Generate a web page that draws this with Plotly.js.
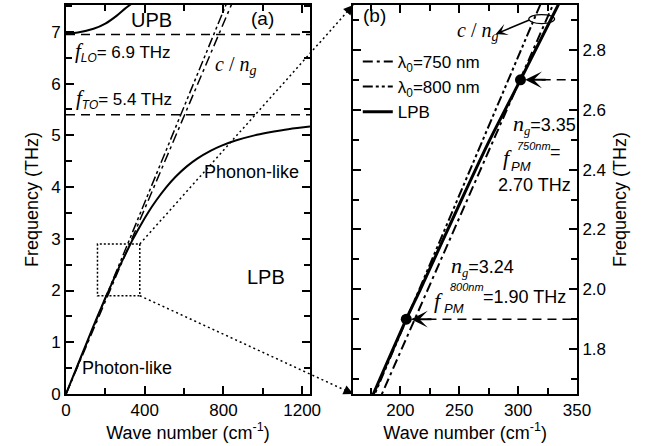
<!DOCTYPE html>
<html><head><meta charset="utf-8">
<script src="https://cdn.plot.ly/plotly-3.0.1.min.js"></script>
<style>html,body{margin:0;padding:0;background:#fff}</style>
</head><body>
<div id="chart" style="width:655px;height:446px"></div>
<script>
// ---- data ----
const lpbK = [0, 53, 106, 160, 177, 205, 217, 252, 276, 302, 334, 341, 377, 416, 460, 510, 557, 614, 667, 734, 791, 862, 958, 1021, 1098, 1175, 1240];
const lpbF = [0, 0.5, 1.0, 1.5, 1.65, 1.9, 2.0, 2.3, 2.5, 2.7, 2.95, 3.0, 3.25, 3.5, 3.75, 4.0, 4.2, 4.4, 4.55, 4.7, 4.8, 4.9, 5.0, 5.05, 5.1, 5.14, 5.17];
const upbK = [0, 60, 140, 200, 260, 300, 335];
const upbF = [6.97, 6.99, 7.06, 7.16, 7.32, 7.45, 7.55];
const line750K = [0, 850];
const line750F = [0, 7.61];
const line800K = [0, 820];
const line800F = [0, 7.59];
const pmK = [302, 205];
const pmF = [2.70, 1.90];
const fLO = 6.95;
const fTO = 5.4;
const boxK = [160, 375];
const boxF = [1.9, 2.9];
const ellipseK = [309, 331];
const ellipseF = [2.888, 2.918];

// ---- layout geometry ----
const W = 655, H = 446;
const M = {l: 66, r: 78, t: 5, b: 52};
const domA = [0, 0.4775], domB = [0.5622, 1];
const rangeXA = [0, 1240], rangeYA = [0, 7.52];
const rangeXB = [160, 350], rangeYB = [1.65, 2.95];
const SANS = 'Arial, "Liberation Sans", sans-serif';
const SERIF = '"Liberation Serif", "Times New Roman", serif';

function px(dom, rng, v) { return dom[0] + (v - rng[0]) / (rng[1] - rng[0]) * (dom[1] - dom[0]); }
function py(rng, v) { return (v - rng[0]) / (rng[1] - rng[0]); }

const dashDot = '10px,4px,3px,4px';
const dashDotDot = '10px,3px,3px,3px,3px,3px';

const traces = [
  // left panel
  {x: lpbK, y: lpbF, xaxis: 'x', yaxis: 'y', mode: 'lines', line: {color: '#000', width: 2, shape: 'spline', smoothing: 0.6}, showlegend: false},
  {x: upbK, y: upbF, xaxis: 'x', yaxis: 'y', mode: 'lines', line: {color: '#000', width: 2, shape: 'spline', smoothing: 0.6}, showlegend: false},
  {x: line750K, y: line750F, xaxis: 'x', yaxis: 'y', mode: 'lines', line: {color: '#000', width: 1.5, dash: dashDot}, showlegend: false},
  {x: line800K, y: line800F, xaxis: 'x', yaxis: 'y', mode: 'lines', line: {color: '#000', width: 1.5, dash: dashDotDot}, showlegend: false},
  // right panel
  {x: line750K, y: line750F, xaxis: 'x2', yaxis: 'y2', mode: 'lines', name: 'λ<sub>0</sub>=750 nm', line: {color: '#000', width: 2, dash: dashDot}},
  {x: line800K, y: line800F, xaxis: 'x2', yaxis: 'y2', mode: 'lines', name: 'λ<sub>0</sub>=800 nm', line: {color: '#000', width: 2, dash: dashDotDot}},
  {x: lpbK, y: lpbF, xaxis: 'x2', yaxis: 'y2', mode: 'lines', name: 'LPB', line: {color: '#000', width: 3, shape: 'spline', smoothing: 0.6}},
  {x: pmK, y: pmF, xaxis: 'x2', yaxis: 'y2', mode: 'markers', marker: {color: '#000', size: 11}, showlegend: false}
];

const axisCommon = {
  showline: true, linewidth: 2, linecolor: '#000', mirror: 'ticks', ticks: 'inside',
  ticklen: 8, tickwidth: 2, tickcolor: '#000', showgrid: false, zeroline: false,
  tickfont: {family: SANS, size: 17, color: '#000'}
};

const shapes = [
  {type: 'line', xref: 'x domain', yref: 'y', x0: 0, x1: 1, y0: fLO, y1: fLO, line: {color: '#000', width: 1.5, dash: '9px,6px'}},
  {type: 'line', xref: 'x domain', yref: 'y', x0: 0, x1: 1, y0: fTO, y1: fTO, line: {color: '#000', width: 1.5, dash: '9px,6px'}},
  {type: 'rect', xref: 'x', yref: 'y', x0: boxK[0], x1: boxK[1], y0: boxF[0], y1: boxF[1], line: {color: '#000', width: 1.5, dash: '2px,2px'}},
  // connectors
  {type: 'line', xref: 'paper', yref: 'paper', x0: px(domA, rangeXA, boxK[1]), y0: py(rangeYA, boxF[1]), x1: domB[0], y1: 1, line: {color: '#000', width: 1.5, dash: '2px,3px'}},
  {type: 'line', xref: 'paper', yref: 'paper', x0: px(domA, rangeXA, boxK[1]), y0: py(rangeYA, boxF[0]), x1: domB[0], y1: 0, line: {color: '#000', width: 1.5, dash: '2px,3px'}},
  // PM dashed guides
  {type: 'line', xref: 'x2', yref: 'y2', x0: pmK[0] + 18, x1: rangeXB[1], y0: pmF[0], y1: pmF[0], line: {color: '#000', width: 1.5, dash: '9px,6px'}},
  {type: 'line', xref: 'x2', yref: 'y2', x0: pmK[1] + 18, x1: rangeXB[1], y0: pmF[1], y1: pmF[1], line: {color: '#000', width: 1.5, dash: '9px,6px'}},
  {type: 'circle', xref: 'x2', yref: 'y2', x0: ellipseK[0], x1: ellipseK[1], y0: ellipseF[0], y1: ellipseF[1], line: {color: '#000', width: 1.2}}
];

const pw = W - M.l - M.r, ph = H - M.t - M.b;
function connHead(y0paper, y1paper) {
  const sx = px(domA, rangeXA, boxK[1]) * pw, sy = (1 - y0paper) * ph;
  const ex = domB[0] * pw, ey = (1 - y1paper) * ph;
  const dx = sx - ex, dy = sy - ey, L = Math.hypot(dx, dy);
  return {ax: dx / L * 10, ay: dy / L * 10};
}
const hTop = connHead(py(rangeYA, boxF[1]), 1);
const hBot = connHead(py(rangeYA, boxF[0]), 0);

function txt(xref, yref, x, y, text, size, anchor, fam) {
  return {xref: xref, yref: yref, x: x, y: y, text: text, showarrow: false, xanchor: anchor || 'center', yanchor: 'middle',
          font: {family: fam || SANS, size: size, color: '#000'}};
}
const annotations = [
  txt('x', 'y', 437, 7.23, 'UPB', 20),
  txt('x', 'y', 1001, 7.26, '(a)', 19),
  txt('x', 'y', 36, 6.62, '<span style="font-family:\'Liberation Serif\';font-size:21px"><i>f</i></span><sub><i>LO</i></sub>= 6.9 THz', 17, 'left'),
  txt('x', 'y', 40, 5.71, '<span style="font-family:\'Liberation Serif\';font-size:21px"><i>f</i></span><sub><i>TO</i></sub>= 5.4 THz', 17, 'left'),
  txt('x', 'y', 747, 6.36, '<i>c</i> / <i>n</i><sub><i>g</i></sub>', 20, 'left', SERIF),
  txt('x', 'y', 943, 4.29, 'Phonon-like', 18),
  txt('x', 'y', 1016, 2.27, 'LPB', 20),
  txt('x', 'y', 312, 0.50, 'Photon-like', 18),
  txt('x2', 'y2', 177.7, 2.914, '(b)', 19),
  txt('x2', 'y2', 246.7, 2.86, '<i>c</i> / <i>n</i><sub><i>g</i></sub>', 20, 'left', SERIF),
  txt('x2', 'y2', 293.7, 2.55, '<span style="font-family:\'Liberation Serif\';font-size:22px"><i>n</i></span><sub><span style="font-family:\'Liberation Serif\'"><i>g</i></span></sub>=3.35', 18, 'left'),
  txt('x2', 'y2', 285.2, 2.442, '<i>f</i>', 22, 'left', SERIF),
  txt('x2', 'y2', 297.5, 2.478, '<i>750nm</i>', 11, 'left'),
  txt('x2', 'y2', 292.3, 2.409, '<i>PM</i>', 13, 'left'),
  txt('x2', 'y2', 325.5, 2.459, '=', 18, 'left'),
  txt('x2', 'y2', 313.6, 2.348, '2.70 THz', 18),
  txt('x2', 'y2', 241.1, 2.075, '<span style="font-family:\'Liberation Serif\';font-size:22px"><i>n</i></span><sub><span style="font-family:\'Liberation Serif\'"><i>g</i></span></sub>=3.24', 18, 'left'),
  txt('x2', 'y2', 226.9, 1.964, '<i>f</i>', 22, 'left', SERIF),
  txt('x2', 'y2', 240.6, 2.006, '<i>800nm</i>', 11, 'left'),
  txt('x2', 'y2', 235.4, 1.936, '<i>PM</i>', 13, 'left'),
  txt('x2', 'y2', 268.6, 1.973, '=1.90 THz', 18, 'left'),
  // arrows
  {xref: 'x2', yref: 'y2', axref: 'x2', ayref: 'y2', x: 281, y: 2.853, ax: 310.8, ay: 2.902, text: '', showarrow: true,
   arrowhead: 3, arrowsize: 1.3, arrowwidth: 1.5, arrowcolor: '#000'},
  {xref: 'x2', yref: 'y2', x: pmK[0] + 4, y: pmF[0], ax: 22, ay: 0, text: '', showarrow: true, arrowhead: 3, arrowsize: 1.4, arrowwidth: 2, arrowcolor: '#000'},
  {xref: 'x2', yref: 'y2', x: pmK[1] + 4, y: pmF[1], ax: 22, ay: 0, text: '', showarrow: true, arrowhead: 3, arrowsize: 1.4, arrowwidth: 2, arrowcolor: '#000'},
  {xref: 'paper', yref: 'paper', x: domB[0], y: 1, ax: hTop.ax, ay: hTop.ay, text: '', showarrow: true, arrowhead: 2, arrowsize: 1.3, arrowwidth: 1.5, arrowcolor: '#000'},
  {xref: 'paper', yref: 'paper', x: domB[0], y: 0, ax: hBot.ax, ay: hBot.ay, text: '', showarrow: true, arrowhead: 2, arrowsize: 1.3, arrowwidth: 1.5, arrowcolor: '#000'}
];

const titleFont = {family: SANS, size: 18, color: '#000'};
const layout = {
  width: W, height: H, margin: M, paper_bgcolor: '#fff', plot_bgcolor: '#fff',
  font: {family: SANS, color: '#000'},
  xaxis: Object.assign({}, axisCommon, {domain: domA, range: rangeXA, anchor: 'y', tick0: 0, dtick: 400,
    minor: {dtick: 200, ticks: 'inside', ticklen: 6, tickwidth: 2, tickcolor: '#000'},
    title: {text: 'Wave number (cm<sup>-1</sup>)', font: titleFont, standoff: 2}}),
  yaxis: Object.assign({}, axisCommon, {domain: [0, 1], range: rangeYA, anchor: 'x', tick0: 0, dtick: 1,
    minor: {dtick: 0.5, ticks: 'inside', ticklen: 6, tickwidth: 2, tickcolor: '#000'},
    title: {text: 'Frequency (THz)', font: titleFont, standoff: 8}}),
  xaxis2: Object.assign({}, axisCommon, {domain: domB, range: rangeXB, anchor: 'y2', tick0: 0, dtick: 50,
    minor: {dtick: 25, ticks: 'inside', ticklen: 6, tickwidth: 2, tickcolor: '#000'},
    title: {text: 'Wave number (cm<sup>-1</sup>)', font: titleFont, standoff: 2}}),
  yaxis2: Object.assign({}, axisCommon, {domain: [0, 1], range: rangeYB, anchor: 'x2', side: 'right', tick0: 0, dtick: 0.2, tickformat: '.1f',
    minor: {dtick: 0.1, ticks: 'inside', ticklen: 6, tickwidth: 2, tickcolor: '#000'},
    title: {text: 'Frequency (THz)', font: titleFont, standoff: 8}}),
  showlegend: true,
  legend: {x: 0.571, y: 0.9, xanchor: 'left', yanchor: 'top', bgcolor: 'rgba(0,0,0,0)', borderwidth: 0,
           font: {family: SANS, size: 17, color: '#000'}, tracegroupgap: 0},
  shapes: shapes,
  annotations: annotations
};

Plotly.newPlot('chart', traces, layout, {displayModeBar: false, staticPlot: true});
</script>
</body></html>
